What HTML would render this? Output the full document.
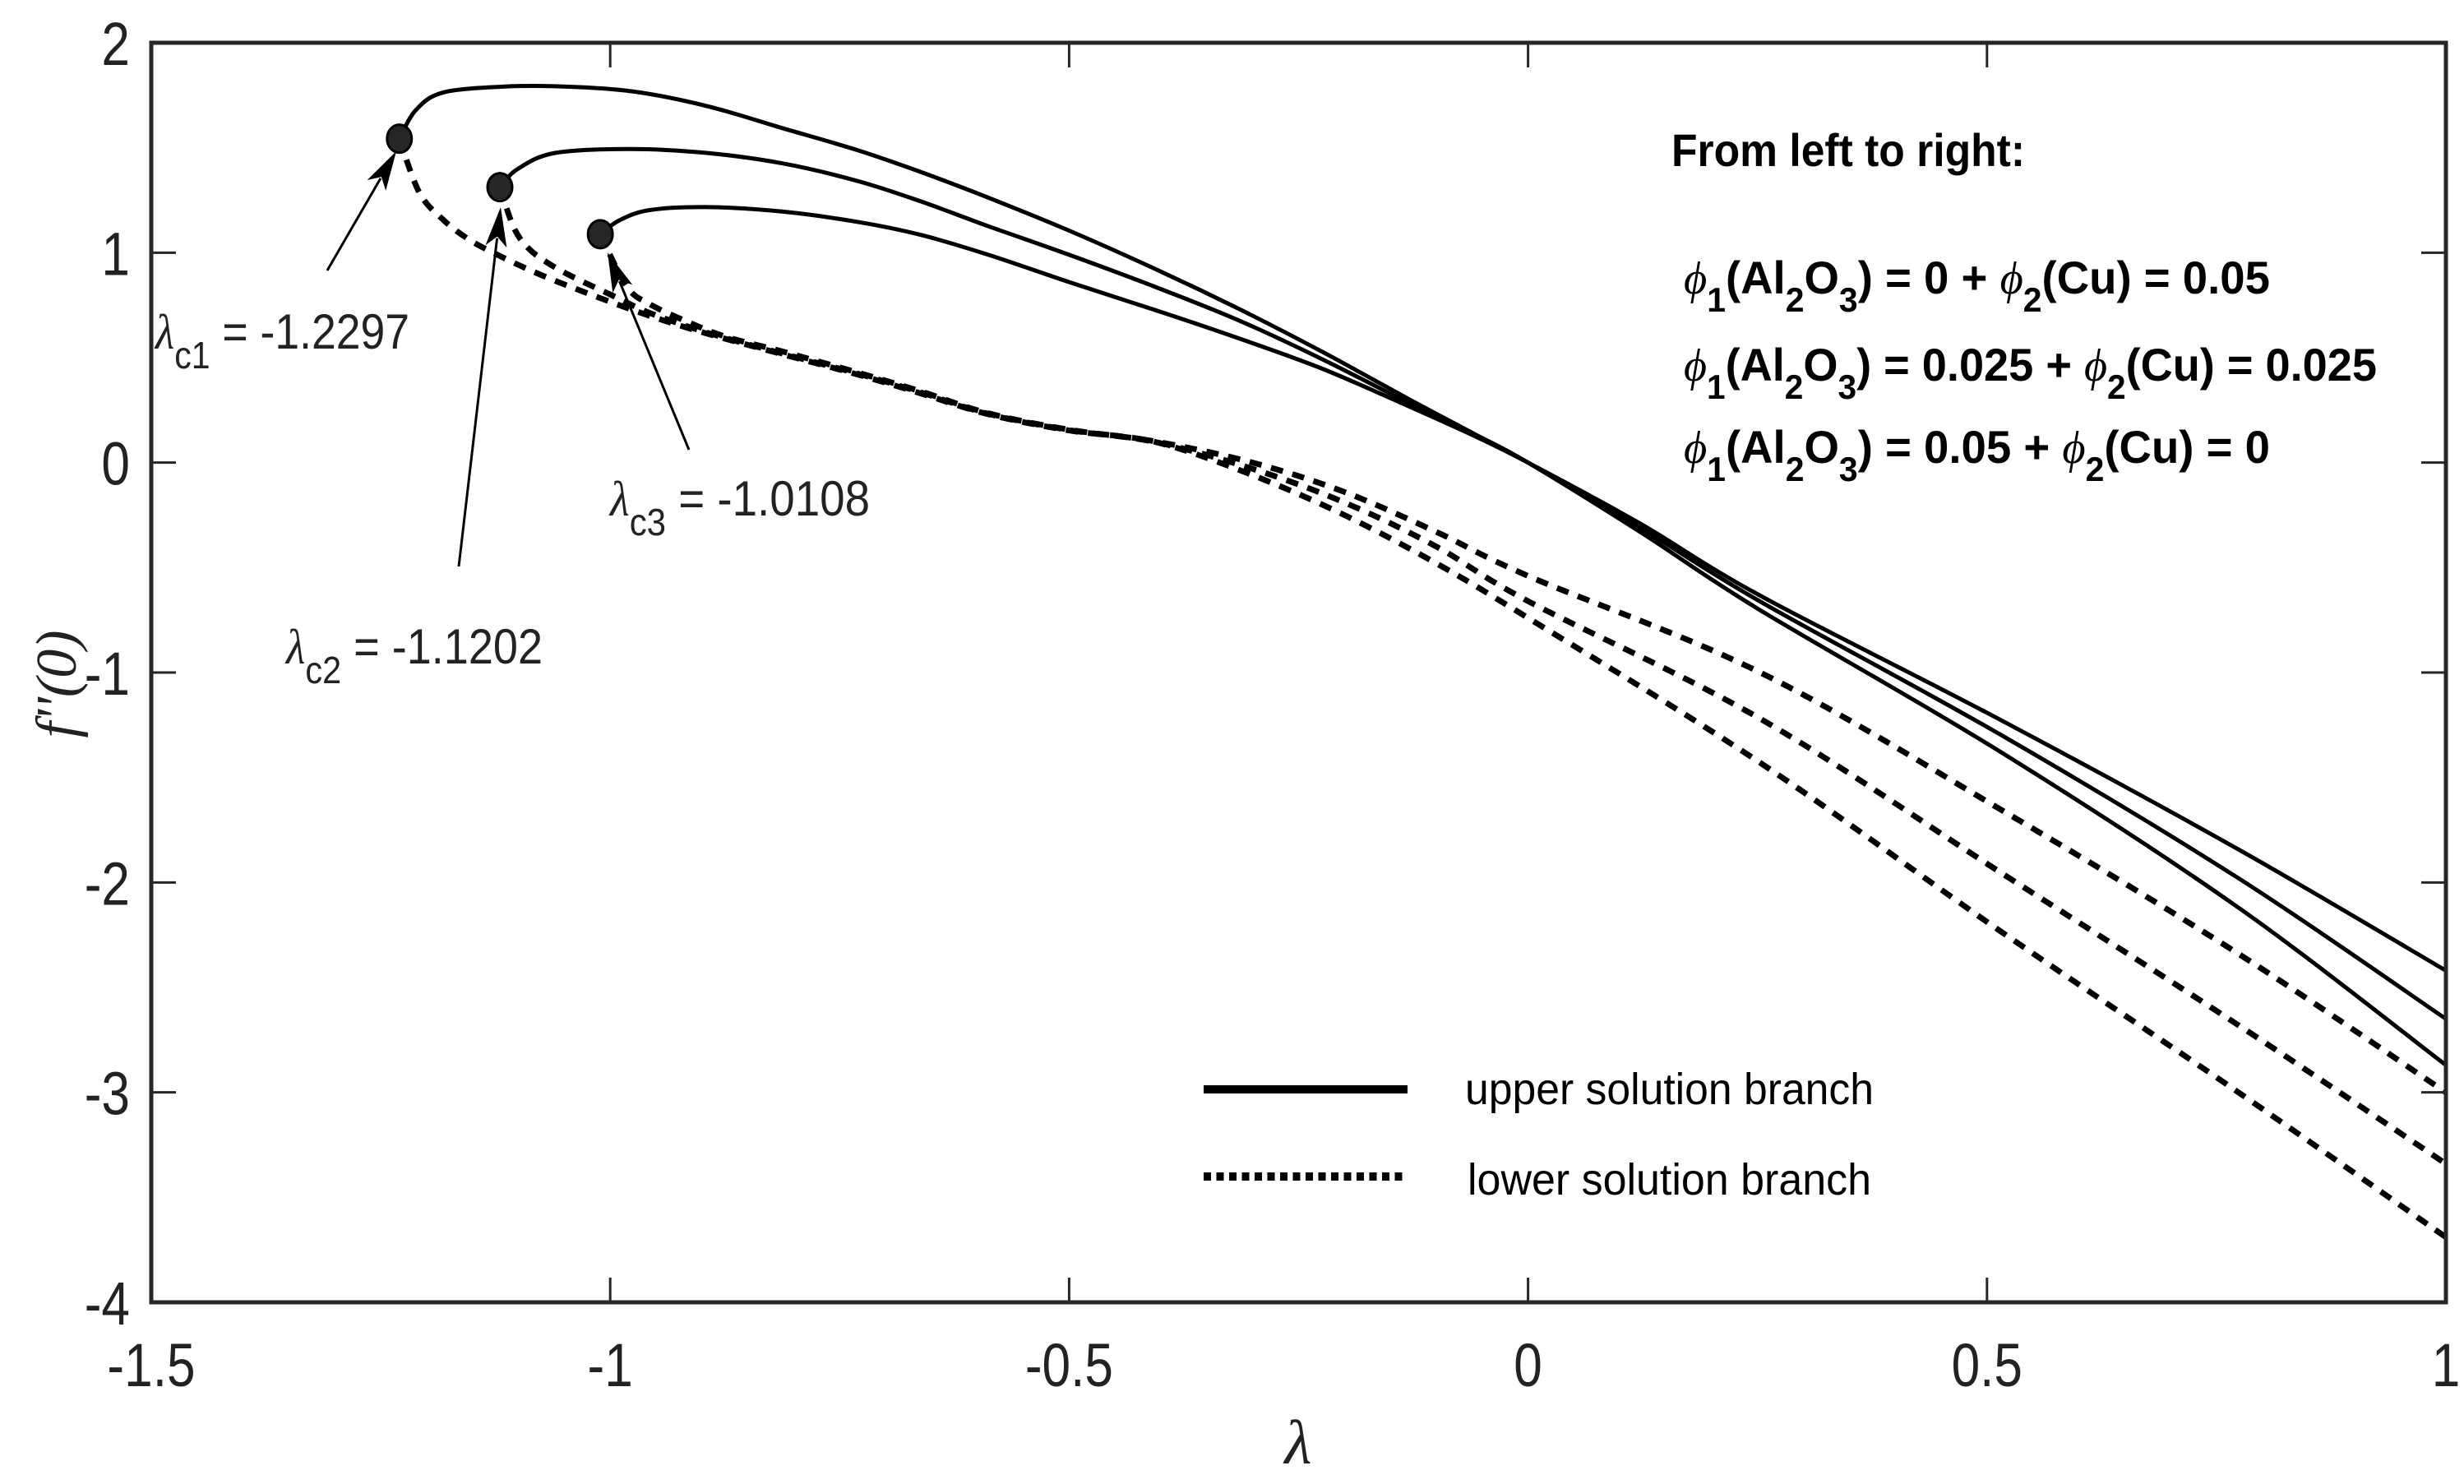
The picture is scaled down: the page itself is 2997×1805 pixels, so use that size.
<!DOCTYPE html>
<html><head><meta charset="utf-8"><style>
html,body{margin:0;padding:0;background:#fff;}
svg{display:block;}
text{font-family:"Liberation Sans",sans-serif;fill:#222;}
</style></head><body>
<svg id="chart" width="2997" height="1805" viewBox="0 0 2997 1805" xmlns="http://www.w3.org/2000/svg">
<rect x="0" y="0" width="2997" height="1805" fill="#fff"/>
<g id="marks"></g>
<g id="axes"></g>
<text x="2033" y="202" font-size="56" font-weight="bold" textLength="430" lengthAdjust="spacingAndGlyphs" style="fill:#000">From left to right:</text>
<text x="2048" y="357" font-size="56" font-weight="bold" textLength="713" lengthAdjust="spacingAndGlyphs" style="fill:#000"><tspan font-family="Liberation Serif" font-style="italic" font-weight="normal">ϕ</tspan><tspan dy="22" font-size="42">1</tspan><tspan dy="-22">(Al</tspan><tspan dy="22" font-size="42">2</tspan><tspan dy="-22">O</tspan><tspan dy="22" font-size="42">3</tspan><tspan dy="-22">) = 0 + </tspan><tspan font-family="Liberation Serif" font-style="italic" font-weight="normal">ϕ</tspan><tspan dy="22" font-size="42">2</tspan><tspan dy="-22">(Cu) = 0.05</tspan></text>
<text x="2048" y="463" font-size="56" font-weight="bold" textLength="843" lengthAdjust="spacingAndGlyphs" style="fill:#000"><tspan font-family="Liberation Serif" font-style="italic" font-weight="normal">ϕ</tspan><tspan dy="22" font-size="42">1</tspan><tspan dy="-22">(Al</tspan><tspan dy="22" font-size="42">2</tspan><tspan dy="-22">O</tspan><tspan dy="22" font-size="42">3</tspan><tspan dy="-22">) = 0.025 + </tspan><tspan font-family="Liberation Serif" font-style="italic" font-weight="normal">ϕ</tspan><tspan dy="22" font-size="42">2</tspan><tspan dy="-22">(Cu) = 0.025</tspan></text>
<text x="2048" y="563" font-size="56" font-weight="bold" textLength="713" lengthAdjust="spacingAndGlyphs" style="fill:#000"><tspan font-family="Liberation Serif" font-style="italic" font-weight="normal">ϕ</tspan><tspan dy="22" font-size="42">1</tspan><tspan dy="-22">(Al</tspan><tspan dy="22" font-size="42">2</tspan><tspan dy="-22">O</tspan><tspan dy="22" font-size="42">3</tspan><tspan dy="-22">) = 0.05 + </tspan><tspan font-family="Liberation Serif" font-style="italic" font-weight="normal">ϕ</tspan><tspan dy="22" font-size="42">2</tspan><tspan dy="-22">(Cu) = 0</tspan></text>

<line x1="1464" y1="1325" x2="1712" y2="1325" stroke="#000" stroke-width="10"/>
<line x1="1464" y1="1431" x2="1712" y2="1431" stroke="#000" stroke-width="10" stroke-dasharray="9 6.5"/>
<text x="1782" y="1343" font-size="54" textLength="497" lengthAdjust="spacingAndGlyphs" style="fill:#000">upper solution branch</text>
<text x="1785" y="1453" font-size="54" textLength="491" lengthAdjust="spacingAndGlyphs" style="fill:#000">lower solution branch</text>

<text x="189" y="424" font-size="60" textLength="309" lengthAdjust="spacingAndGlyphs"><tspan font-family="Liberation Serif" font-style="italic">λ</tspan><tspan dy="24" font-size="46">c1</tspan><tspan dy="-24"> = -1.2297</tspan></text>
<text x="348" y="807" font-size="60" textLength="312" lengthAdjust="spacingAndGlyphs"><tspan font-family="Liberation Serif" font-style="italic">λ</tspan><tspan dy="24" font-size="46">c2</tspan><tspan dy="-24"> = -1.1202</tspan></text>
<text x="742" y="627" font-size="60" textLength="316" lengthAdjust="spacingAndGlyphs"><tspan font-family="Liberation Serif" font-style="italic">λ</tspan><tspan dy="24" font-size="46">c3</tspan><tspan dy="-24"> = -1.0108</tspan></text>

<text x="1579" y="1780" font-size="76" text-anchor="middle" style="font-family:'Liberation Serif',serif;font-style:italic">λ</text>
<text transform="translate(92,832) rotate(-90)" font-size="70" text-anchor="middle" style="font-family:'Liberation Serif',serif;font-style:italic">f''(0)</text>
</svg>
<script>
const xTicks = [-1.5, -1, -0.5, 0, 0.5, 1];
const xTickLabels = ["-1.5", "-1", "-0.5", "0", "0.5", "1"];
const yTicks = [2, 1, 0, -1, -2, -3, -4];
const yTickLabels = ["2", "1", "0", "-1", "-2", "-3", "-4"];
const criticalLambda = [-1.2297, -1.1202, -1.0108];
const criticalF = [1.543, 1.312, 1.088];
const upper1L = [-1.2297,-1.212,-1.183,-1.121,-1.060,-0.977,-0.895,-0.813,-0.731,-0.662,-0.588,-0.5,-0.405,-0.314,-0.223,-0.131,-0.06,0,0.122,0.253,0.514,0.774,1.0];
const upper1F = [1.543,1.678,1.762,1.79,1.793,1.769,1.699,1.594,1.489,1.385,1.262,1.105,0.92,0.73,0.525,0.305,0.14,0,-0.33,-0.703,-1.376,-2.12,-2.87];
const upper2L = [-1.1202,-1.101,-1.060,-0.977,-0.895,-0.813,-0.731,-0.662,-0.588,-0.5,-0.405,-0.314,-0.223,-0.131,-0.06,0,0.122,0.253,0.514,0.774,1.0];
const upper2F = [1.312,1.398,1.475,1.494,1.475,1.426,1.342,1.245,1.126,0.99,0.835,0.675,0.49,0.286,0.135,0,-0.31,-0.662,-1.294,-1.98,-2.65];
const upper3L = [-1.0108,-0.990,-0.957,-0.895,-0.813,-0.731,-0.662,-0.588,-0.5,-0.405,-0.314,-0.223,-0.131,-0.06,0,0.122,0.253,0.514,0.774,1.0];
const upper3F = [1.088,1.154,1.203,1.217,1.196,1.147,1.085,0.99,0.86,0.725,0.59,0.445,0.27,0.13,0,-0.29,-0.634,-1.224,-1.843,-2.42];
const lower1L = [-1.2297,-1.208,-1.183,-1.154,-1.121,-1.076,-1.019,-0.957,-0.895,-0.813,-0.731,-0.662,-0.588,-0.5,-0.405,-0.3,-0.2,-0.1,0,0.253,0.514,0.774,1.0];
const lower1F = [1.543,1.287,1.161,1.063,0.986,0.895,0.797,0.699,0.615,0.517,0.42,0.33,0.23,0.153,0.097,-0.06,-0.25,-0.48,-0.74,-1.43,-2.23,-3.0,-3.69];
const lower2L = [-1.1202,-1.105,-1.089,-1.068,-1.039,-0.998,-0.957,-0.895,-0.813,-0.731,-0.662,-0.588,-0.5,-0.405,-0.3,-0.2,-0.1,0,0.253,0.514,0.774,1.0];
const lower2F = [1.312,1.119,1.021,0.951,0.881,0.797,0.713,0.62,0.52,0.425,0.335,0.232,0.155,0.097,-0.03,-0.19,-0.40,-0.66,-1.22,-1.95,-2.68,-3.34];
const lower3L = [-1.0108,-0.982,-0.957,-0.916,-0.875,-0.813,-0.731,-0.662,-0.588,-0.5,-0.405,-0.3,-0.2,-0.1,0,0.253,0.514,0.774,1.0];
const lower3F = [1.088,0.839,0.755,0.671,0.601,0.53,0.43,0.34,0.235,0.157,0.1,0.0,-0.14,-0.33,-0.54,-1.0,-1.65,-2.34,-3.0];

const NS = "http://www.w3.org/2000/svg";
const X0 = 184, X1 = 2975, Y0 = 52, Y1 = 1584;
function xs(l){ return X0 + (l + 1.5) / 2.5 * (X1 - X0); }
function ys(f){ return Y0 + (2 - f) / 6 * (Y1 - Y0); }
const marks = document.getElementById('marks');
const axes = document.getElementById('axes');
function mk(tag, attrs, parent){ const e = document.createElementNS(NS, tag); for (const k in attrs) e.setAttribute(k, attrs[k]); parent.appendChild(e); return e; }
function smoothPath(L, F){
  const p = L.map((l,i)=>[xs(l), ys(F[i])]);
  let d = 'M' + p[0][0].toFixed(1) + ',' + p[0][1].toFixed(1);
  for (let i = 0; i < p.length - 1; i++){
    const a = p[Math.max(0,i-1)], b = p[i], c = p[i+1], e = p[Math.min(p.length-1,i+2)];
    const c1x = b[0] + (c[0]-a[0])/6, c1y = b[1] + (c[1]-a[1])/6;
    const c2x = c[0] - (e[0]-b[0])/6, c2y = c[1] - (e[1]-b[1])/6;
    d += ' C' + c1x.toFixed(1)+','+c1y.toFixed(1)+' '+c2x.toFixed(1)+','+c2y.toFixed(1)+' '+c[0].toFixed(1)+','+c[1].toFixed(1);
  }
  return d;
}
const clip = mk('clipPath', {id:'plotclip'}, marks);
mk('rect', {x:X0, y:Y0, width:X1-X0, height:Y1-Y0}, clip);
const series = [
  [lower1L, lower1F, true, 'lower-branch-1'], [lower2L, lower2F, true, 'lower-branch-2'], [lower3L, lower3F, true, 'lower-branch-3'],
  [upper1L, upper1F, false, 'upper-branch-1'], [upper2L, upper2F, false, 'upper-branch-2'], [upper3L, upper3F, false, 'upper-branch-3']
];
series.forEach(s => {
  const attrs = {d: smoothPath(s[0], s[1]), fill:'none', stroke:'#000', 'stroke-width': s[2] ? 7 : 5, 'clip-path':'url(#plotclip)'};
  if (s[2]) attrs['stroke-dasharray'] = '15 12';
  const el = mk('path', attrs, marks);
  
  
});
criticalLambda.forEach((l, i) => {
  const el = mk('ellipse', {cx: xs(l), cy: ys(criticalF[i]), rx: 15, ry: 17, fill:'#262626', stroke:'#000', 'stroke-width': 3}, marks);
  
  
});
const arrows = [[398,329,482,184],[558,689,609,252],[838,547,739,307]];
arrows.forEach((a, i) => {
  const g = mk('g', {}, marks);
  
  
  const dx = a[2]-a[0], dy = a[3]-a[1], len = Math.hypot(dx,dy), ux = dx/len, uy = dy/len;
  const hl = 48, hw = 13;
  const bx = a[2]-ux*hl, by = a[3]-uy*hl;
  mk('line', {x1:a[0], y1:a[1], x2:bx+ux*10, y2:by+uy*10, stroke:'#000', 'stroke-width':3}, g);
  mk('polygon', {points: a[2]+','+a[3]+' '+(bx-uy*hw)+','+(by+ux*hw)+' '+(bx+ux*12)+','+(by+uy*12)+' '+(bx+uy*hw)+','+(by-ux*hw), fill:'#000'}, g);
});
const box = mk('rect', {x:X0, y:Y0, width:X1-X0, height:Y1-Y0, fill:'none', stroke:'#262626', 'stroke-width':5}, axes);


xTicks.forEach((t, i) => {
  const x = xs(t);
  mk('line', {x1:x, y1:Y1, x2:x, y2:Y1-30, stroke:'#262626', 'stroke-width':3}, axes);
  mk('line', {x1:x, y1:Y0, x2:x, y2:Y0+30, stroke:'#262626', 'stroke-width':3}, axes);
  const tx = mk('text', {x:x, y:1686, 'font-size':74, 'text-anchor':'middle', transform:'translate('+x+',0) scale(0.84,1) translate('+(-x)+',0)'}, axes);
  tx.textContent = xTickLabels[i];
  
  
});
yTicks.forEach((t, i) => {
  const y = ys(t);
  mk('line', {x1:X0, y1:y, x2:X0+30, y2:y, stroke:'#262626', 'stroke-width':3}, axes);
  mk('line', {x1:X1, y1:y, x2:X1-30, y2:y, stroke:'#262626', 'stroke-width':3}, axes);
  const tx = mk('text', {x:158, y:y+27, 'font-size':74, 'text-anchor':'end', transform:'translate(158,0) scale(0.84,1) translate(-158,0)'}, axes);
  tx.textContent = yTickLabels[i];
  
  
});
</script>
</body></html>
